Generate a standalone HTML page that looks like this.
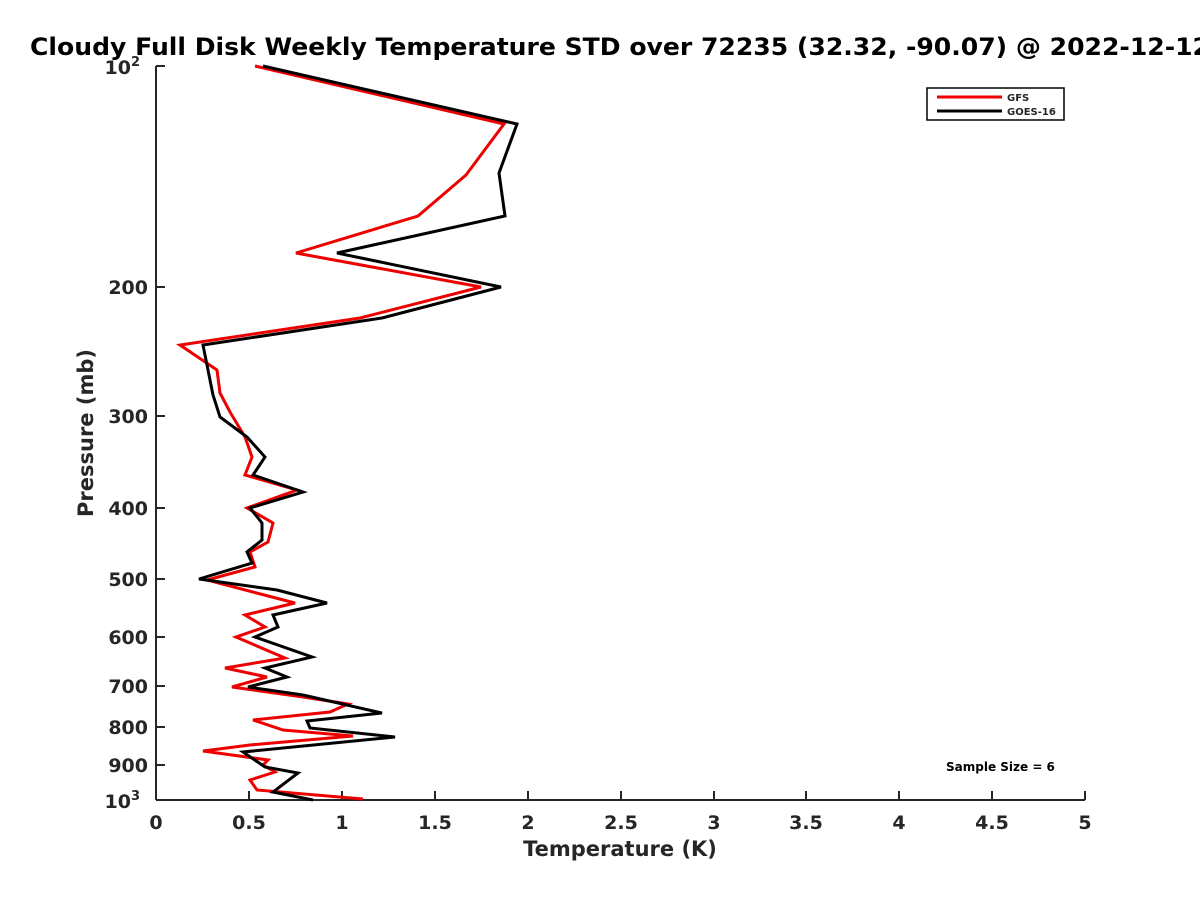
<!DOCTYPE html><html><head><style>body{margin:0;background:#fff}svg text{font-family:"DejaVu Sans","Liberation Sans",sans-serif;font-weight:bold;fill:#262626}</style></head><body>
<svg width="1200" height="900" viewBox="0 0 1200 900">
<rect width="1200" height="900" fill="#fff"/>
<text x="30" y="55" font-size="24" textLength="1180" lengthAdjust="spacingAndGlyphs" style="fill:#000">Cloudy Full Disk Weekly Temperature STD over 72235 (32.32, -90.07) @ 2022-12-12</text>
<g stroke="#262626" stroke-width="2" fill="none">
<line x1="156" y1="66" x2="156" y2="800"/><line x1="156" y1="800" x2="1085" y2="800"/>
<path d="M156 66h9M156 287h9M156 416h9M156 508h9M156 579h9M156 637h9M156 686h9M156 727h9M156 765h9"/>
<path d="M156 800v-9M342 800v-9M528 800v-9M714 800v-9M899 800v-9M1085 800v-9M249 800v-9M435 800v-9M621 800v-9M806 800v-9M992 800v-9"/>
</g>
<g font-size="19" text-anchor="end">
<text x="140" y="74">10<tspan font-size="13" dy="-8">2</tspan></text>
<text x="148" y="294">200</text><text x="148" y="423">300</text><text x="148" y="515">400</text><text x="148" y="586">500</text><text x="148" y="644">600</text><text x="148" y="693">700</text><text x="148" y="734">800</text><text x="148" y="772">900</text>
<text x="140" y="808">10<tspan font-size="13" dy="-8">3</tspan></text>
</g>
<g font-size="19" text-anchor="middle">
<text x="156" y="829">0</text><text x="249" y="829">0.5</text><text x="342" y="829">1</text><text x="435" y="829">1.5</text><text x="528" y="829">2</text><text x="621" y="829">2.5</text><text x="714" y="829">3</text><text x="806" y="829">3.5</text><text x="899" y="829">4</text><text x="992" y="829">4.5</text><text x="1085" y="829">5</text>
<text x="620" y="856" font-size="21">Temperature (K)</text>
<text transform="translate(93,433) rotate(-90)" font-size="21">Pressure (mb)</text>
</g>
<polyline fill="none" stroke="#e00" stroke-width="3" points="255,66 504,124 466,175 418,216 296,253 481,287 360,318 180,345 217,370 220,393 230,412 245,437 252,457 245,475 297,490 247,508 273,523 268,542 250,552 255,567 207,580 295,603 245,615 265,627 236,637 285,658 225,668 267,677 232,687 303,697 348,704 330,712 253,720 283,730 353,736 250,745 203,751 268,760 263,765 275,772 250,780 257,790 363,799"/>
<polyline fill="none" stroke="#000" stroke-width="3" points="263,66 517,124 499,173 505,216 337,253 501,287 382,318 203,345 213,395 220,417 247,437 265,457 253,475 303,492 250,508 262,523 262,540 247,552 252,563 199,579 277,590 327,603 273,615 278,627 255,637 312,657 265,668 287,677 248,687 303,695 382,713 307,721 310,728 395,737 243,752 265,767 298,773 273,792 313,800"/>
<rect x="927" y="88" width="137" height="32" fill="#fff" stroke="#000" stroke-width="1.5"/>
<line x1="937" y1="97" x2="1002" y2="97" stroke="#e00" stroke-width="3"/>
<line x1="937" y1="111" x2="1002" y2="111" stroke="#000" stroke-width="3"/>
<text x="1007" y="101" font-size="10">GFS</text><text x="1007" y="115" font-size="10">GOES-16</text>
<text x="946" y="771" font-size="12" style="fill:#000">Sample Size = 6</text>
</svg></body></html>
